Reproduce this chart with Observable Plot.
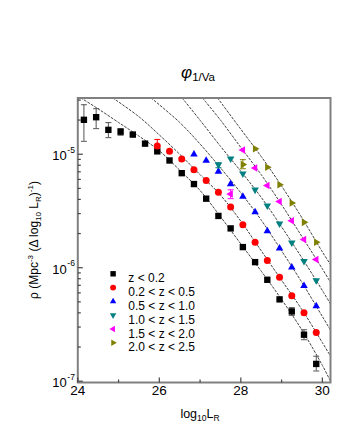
<!DOCTYPE html>
<html><head><meta charset="utf-8">
<script src="https://cdn.jsdelivr.net/npm/d3@7"></script>
<script src="https://cdn.jsdelivr.net/npm/@observablehq/plot@0.6"></script>
<style>
body{margin:0;background:#fff;}
svg{display:block;font-family:"Liberation Sans",Arial,sans-serif;}
</style>
</head><body><div id="chart"></div>
<script>
// ---- data ----
const logL = [24.15,24.45,24.75,25.05,25.35,25.65,25.95,26.25,26.55,26.85,27.15,27.45,27.75,28.05,28.35,28.65,28.95,29.25,29.55,29.85];
const seriesNames = ["z < 0.2","0.2 < z < 0.5","0.5 < z < 1.0","1.0 < z < 1.5","1.5 < z < 2.0","2.0 < z < 2.5"];
const seriesColors = ["#000000","#ff0000","#0000ff","#008080","#ff00ff","#808000"];
const rhoZ1 = [2.01e-5,2.12e-5,1.64e-5,1.58e-5,1.49e-5,1.24e-5,1.06e-5,8.81e-6,6.81e-6,5.46e-6,4.06e-6,2.86e-6,2.22e-6,1.52e-6,1.12e-6,7.83e-7,5.26e-7,4.12e-7,2.57e-7,1.42e-7];
const rhoZ2 = [1.18e-5,1.06e-5,9.06e-6,7.29e-6,5.87e-6,4.63e-6,3.42e-6,2.39e-6,1.68e-6,1.16e-6,8.26e-7,5.66e-7,4.02e-7,2.69e-7];
const rhoZ3 = [9.96e-6,8.81e-6,7.05e-6,5.47e-6,4.23e-6,3.09e-6,2.10e-6,1.48e-6,1.01e-6,6.93e-7,4.59e-7];
const rhoZ4 = [8.08e-6,9.12e-6,6.73e-6,4.86e-6,3.52e-6,2.44e-6,1.66e-6,1.14e-6,7.73e-7];
const rhoZ5 = [4.47e-6,1.09e-5,7.55e-6,5.31e-6,3.84e-6,2.59e-6,1.77e-6,1.18e-6];
const rhoZ6 = [8.10e-6,1.12e-5,7.67e-6,5.38e-6,3.72e-6,2.51e-6,1.68e-6];
const rhoSeries = [rhoZ1,rhoZ2,rhoZ3,rhoZ4,rhoZ5,rhoZ6];

// error bars
const errSeries = [0,0,0,0,0,0,0,0,1,3,4,5];
const errL  = [24.15,24.45,24.75,25.05,25.35,29.25,29.55,29.85,25.95,27.45,27.75,28.05];
const errLo = [1.30e-5,1.68e-5,1.40e-5,1.47e-5,1.44e-5,3.80e-7,2.32e-7,1.23e-7,1.08e-5,7.6e-6,4.06e-6,7.45e-6];
const errHi = [2.73e-5,2.52e-5,1.90e-5,1.68e-5,1.54e-5,4.45e-7,2.84e-7,1.66e-7,1.35e-5,8.4e-6,4.86e-6,8.95e-6];

// dashed model curves
const curveL1 = [24.08,24.5,25.0,25.5,26.0,26.5,27.0,27.5,28.0,28.5,29.0,29.5,30.0,30.2];
const curveR1 = [3.13e-5,2.51e-5,1.905e-5,1.445e-5,1.072e-5,7.24e-6,4.79e-6,2.82e-6,1.62e-6,9.33e-7,5.25e-7,2.82e-7,1.38e-7,1.0e-7];
const curveL2 = [24.86,25.5,26.0,26.5,27.0,27.5,28.0,28.5,29.0,29.5,30.0,30.25];
const curveR2 = [3.13e-5,2.14e-5,1.48e-5,1.0e-5,6.61e-6,4.37e-6,2.57e-6,1.41e-6,7.76e-7,4.27e-7,2.19e-7,1.55e-7];
const curveL3 = [25.8,26.5,27.0,27.5,28.0,28.5,29.0,29.5,30.0,30.25];
const curveR3 = [3.13e-5,1.905e-5,1.23e-5,7.59e-6,4.57e-6,2.63e-6,1.41e-6,7.41e-7,3.72e-7,2.63e-7];
const curveL4 = [26.56,27.0,27.5,28.0,28.5,29.0,29.5,30.0,30.25];
const curveR4 = [3.13e-5,1.995e-5,1.175e-5,7.08e-6,4.17e-6,2.29e-6,1.22e-6,6.31e-7,4.47e-7];
const curveL5 = [27.06,27.5,28.0,28.5,29.0,29.5,30.0,30.25];
const curveR5 = [3.13e-5,2.0e-5,1.148e-5,6.61e-6,3.59e-6,1.88e-6,9.77e-7,6.92e-7];
const curveL6 = [27.43,28.0,28.5,29.0,29.5,30.0,30.25];
const curveR6 = [3.13e-5,1.66e-5,9.55e-6,5.25e-6,2.75e-6,1.38e-6,1.0e-6];
const curveLs = [curveL1,curveL2,curveL3,curveL4,curveL5,curveL6];
const curveRs = [curveR1,curveR2,curveR3,curveR4,curveR5,curveR6];

// axis ticks
const xMajor = [24,26,28,30];
const xTickLabels = ["24","26","28","30"];
const xMinor = [25,27,29];
const yMajor = [1e-7,1e-6,1e-5];
const yTickExp = ["-7","-6","-5"];
const yMinor = [2e-7,3e-7,4e-7,5e-7,6e-7,7e-7,8e-7,9e-7,2e-6,3e-6,4e-6,5e-6,6e-6,7e-6,8e-6,9e-6,2e-5,3e-5];

// ---- symbols ----
const R3 = Math.sqrt(3);
function tri(dir){ // 0 up, 1 down, 2 left, 3 right
  return {draw(ctx, size){
    const a = Math.sqrt(size)*1.25;
    const h = a/R3, b = a/(2*R3);
    let pts = [[0,-h],[-a/2,b],[a/2,b]];
    if(dir===1) pts = pts.map(([x,y])=>[x,-y]);
    if(dir===2) pts = pts.map(([x,y])=>[y,x]);
    if(dir===3) pts = pts.map(([x,y])=>[-y,x]);
    ctx.moveTo(pts[0][0],pts[0][1]); ctx.lineTo(pts[1][0],pts[1][1]); ctx.lineTo(pts[2][0],pts[2][1]); ctx.closePath();
  }};
}
const seriesSymbols = ["square","circle",tri(0),tri(1),tri(2),tri(3)];
const seriesR = [3.6,3.5,3.4,3.4,3.4,3.4];
const cap = {draw(ctx){ctx.moveTo(-3,0);ctx.lineTo(3,0);}};
const tickLine = (dx,dy)=>({draw(ctx){ctx.moveTo(0,0);ctx.lineTo(dx,dy);}});

const marks = [];
// dashed curves
curveLs.forEach((L,k)=>{
  const pts = L.map((x,i)=>({x, y: curveRs[k][i]}));
  marks.push(Plot.line(pts,{x:"x",y:"y",curve:"catmull-rom",stroke:"#404040",strokeWidth:1,strokeDasharray:"2,2",clip:true}));
});
// error bars
const errData = errL.map((x,i)=>({x, lo: errLo[i], hi: errHi[i], s: errSeries[i]}));
const errColor = d => d.s===0 ? "#555" : seriesColors[d.s];
marks.push(Plot.ruleX(errData,{x:"x",y1:"lo",y2:"hi",stroke:errColor,strokeWidth:1}));
marks.push(Plot.dot(errData,{x:"x",y:"lo",symbol:cap,stroke:errColor,fill:"none",strokeWidth:1}));
marks.push(Plot.dot(errData,{x:"x",y:"hi",symbol:cap,stroke:errColor,fill:"none",strokeWidth:1}));
// points
rhoSeries.forEach((vals,k)=>{
  const xs = logL.slice(logL.length - vals.length);
  const pts = vals.map((v,i)=>({x: xs[i], y: v}));
  marks.push(Plot.dot(pts,{x:"x",y:"y",symbol:seriesSymbols[k],r:seriesR[k],fill:seriesColors[k],stroke:"none"}));
});
// frame
marks.push(Plot.frame({stroke:"#808080",strokeWidth:2}));
// ticks (inward)
marks.push(Plot.dot(xMajor,{x:d=>d,frameAnchor:"bottom",symbol:tickLine(0,-5),stroke:"#444",strokeWidth:1.2}));
marks.push(Plot.dot(xMinor,{x:d=>d,frameAnchor:"bottom",symbol:tickLine(0,-3),stroke:"#444",strokeWidth:1.2}));
marks.push(Plot.dot(yMajor,{y:d=>d,frameAnchor:"left",symbol:tickLine(5,0),stroke:"#444",strokeWidth:1.2}));
marks.push(Plot.dot(yMinor,{y:d=>d,frameAnchor:"left",symbol:tickLine(3,0),stroke:"#444",strokeWidth:1.2}));
// tick labels
marks.push(Plot.text(xMajor,{x:d=>d,frameAnchor:"bottom",dy:12,text:(d,i)=>xTickLabels[i],fontSize:13.5,fill:"#000"}));
marks.push(Plot.text(yMajor,{y:d=>d,frameAnchor:"left",dx:-11,dy:2,text:()=>"10",textAnchor:"end",fontSize:13,fill:"#000"}));
marks.push(Plot.text(yMajor,{y:d=>d,frameAnchor:"left",dx:-10.5,dy:-4,text:(d,i)=>yTickExp[i],textAnchor:"start",fontSize:8.5,fill:"#000"}));
// legend
seriesNames.forEach((name,k)=>{
  marks.push(Plot.dot([name],{frameAnchor:"top-left",dx:35.3,dy:175.8+k*13.8,symbol:seriesSymbols[k],r:seriesR[k]*0.85,fill:seriesColors[k],stroke:"none"}));
  marks.push(Plot.text([name],{frameAnchor:"top-left",dx:50.5,dy:175.8+k*13.8,text:d=>d,textAnchor:"start",fontSize:12,fill:"#000"}));
});

const chart = Plot.plot({
  width:340, height:440,
  marginLeft:77.3, marginRight:10, marginTop:97.5, marginBottom:58,
  x:{domain:[24,30.2],axis:null},
  y:{type:"log",domain:[9.74e-8,3.13e-5],axis:null},
  style:{fontFamily:"'Liberation Sans',Arial,sans-serif",background:"#fff"},
  marks
});
document.getElementById("chart").appendChild(chart);

// titles with sub/superscripts
const svg = d3.select(chart);
const title = svg.append("text").attr("x",198).attr("y",78).attr("text-anchor","middle").attr("fill","#000");
title.append("tspan").attr("font-size",17).attr("font-style","italic").text("φ");
title.append("tspan").attr("font-size",11.5).attr("dy",3).text("1/Va");

const xt = svg.append("text").attr("x",200).attr("y",418).attr("text-anchor","middle").attr("font-size",12.5).attr("fill","#000");
xt.append("tspan").text("log");
xt.append("tspan").attr("font-size",8.5).attr("dy",3).text("10");
xt.append("tspan").attr("dy",-3).text("L");
xt.append("tspan").attr("font-size",8.5).attr("dy",3).text("R");

const yt = svg.append("text").attr("transform","translate(38,240) rotate(-90)").attr("text-anchor","middle").attr("font-size",12).attr("fill","#000");
yt.append("tspan").text("ρ (Mpc");
yt.append("tspan").attr("font-size",8).attr("dy",-5).text("-3");
yt.append("tspan").attr("dy",5).text(" (Δ log");
yt.append("tspan").attr("font-size",8).attr("dy",3).text("10");
yt.append("tspan").attr("dy",-3).text(" L");
yt.append("tspan").attr("font-size",8).attr("dy",3).text("R");
yt.append("tspan").attr("dy",-3).text(")");
yt.append("tspan").attr("font-size",8).attr("dy",-5).text("-1");
yt.append("tspan").attr("dy",5).text(")");
</script></body></html>
